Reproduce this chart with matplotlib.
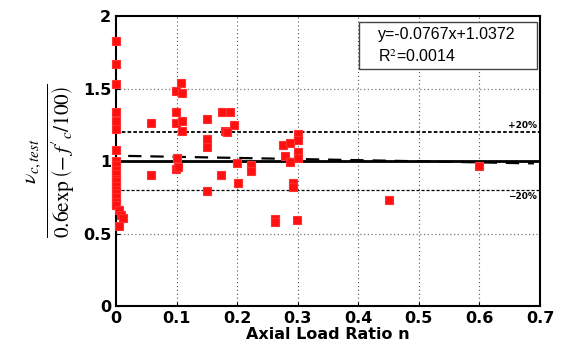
import matplotlib.pyplot as plt
import matplotlib.patches as patches
import numpy as np

plt.rcParams['mathtext.fontset'] = 'stix'

# axial load ratio and normalised shear strength
n_vals = [0, 0, 0, 0, 0, 0, 0, 0, 0, 0, 0, 0, 0, 0, 0, 0, 0, 0, 0, 0.005, 0.008, 0.012, 0.005,
          0.058, 0.057,
          0.108, 0.099, 0.109, 0.099, 0.099, 0.109, 0.109, 0.100, 0.099, 0.103,
          0.150, 0.150, 0.150, 0.150, 0.173,
          0.175, 0.188, 0.194, 0.180, 0.184,
          0.199, 0.201, 0.223, 0.223,
          0.262, 0.262, 0.276, 0.279, 0.287, 0.288, 0.292, 0.292,
          0.301, 0.301, 0.301, 0.301, 0.298,
          0.450, 0.600]
v_ratio = [1.83, 1.67, 1.53, 1.34, 1.28, 1.22, 1.08, 1.00, 0.97, 0.94, 0.91, 0.88, 0.86,
           0.83, 0.80, 0.78, 0.75, 0.72, 0.70, 0.66, 0.63, 0.61, 0.55,
           1.26, 0.905,
           1.54, 1.485, 1.47, 1.34, 1.264, 1.28, 1.21, 1.02, 0.945, 0.957,
           1.29, 1.15, 1.10, 0.795, 0.905,
           1.34, 1.34, 1.25, 1.21, 1.20,
           0.984, 0.846, 0.970, 0.935,
           0.60, 0.58, 1.11, 1.034, 1.126, 0.995, 0.85, 0.82,
           1.19, 1.145, 1.064, 1.023, 0.593,
           0.731, 0.968]

slope, intercept = -0.0767, 1.0372
fit_text = 'y=-0.0767x+1.0372\nR$^2$=0.0014'

fig = plt.figure(figsize=(5.64, 3.51), dpi=100)
ax = fig.add_axes([0.2057, 0.128, 0.7517, 0.826])

# grid
for gx in [0.1, 0.2, 0.3, 0.4, 0.5, 0.6]:
    ax.axvline(gx, color='#555555', ls=(0, (1, 2.5)), lw=0.8, zorder=1)
for gy in [0.5, 1.5]:
    ax.axhline(gy, color='#777777', ls=(0, (1, 2)), lw=0.9, zorder=1)

ax.axhline(1.2, color='black', ls=(0, (2, 1.2)), lw=1.3, zorder=2)
ax.axhline(0.8, color='black', ls=(0, (2.5, 1.5)), lw=0.9, zorder=2)
ax.axhline(1.0, color='black', lw=2, zorder=2)

xf = np.array([0.02, 0.69])
ax.plot(xf, slope * xf + intercept, color='black', ls=(0, (6, 4)), lw=1.6, zorder=3)

ax.plot(n_vals, v_ratio, 's', ms=5.2, color='#ff1010', mec='#ff3030', mew=0.8,
        zorder=4, clip_on=False)

ax.text(0.695, 1.215, '+20%', ha='right', va='bottom', fontsize=6.5, fontweight='bold')
ax.text(0.695, 0.785, '\u221220%', ha='right', va='top', fontsize=6.5, fontweight='bold')

# equation box
ax.add_patch(patches.Rectangle((0.573, 0.817), 0.42, 0.162, transform=ax.transAxes,
                               fc='white', ec='#444444', lw=1, zorder=5))
ax.text(0.618, 0.898, fit_text, transform=ax.transAxes, ha='left', va='center',
        fontsize=11.5, family='Liberation Sans', linespacing=1.45, zorder=6)

ax.set_xlim(0, 0.7)
ax.set_ylim(0, 2)
ax.set_xticks([0, 0.1, 0.2, 0.3, 0.4, 0.5, 0.6, 0.7])
ax.set_xticklabels(['0', '0.1', '0.2', '0.3', '0.4', '0.5', '0.6', '0.7'])
ax.set_yticks([0, 0.5, 1, 1.5, 2])
ax.set_yticklabels(['0', '0.5', '1', '1.5', '2'])
ax.tick_params(direction='in', length=3, labelsize=11.5, width=0.8)
for lab in ax.get_xticklabels() + ax.get_yticklabels():
    lab.set_fontweight('bold')
for sp in ax.spines.values():
    sp.set_linewidth(1.5)

ax.set_xlabel('Axial Load Ratio n', fontsize=11.5, fontweight='bold', labelpad=1)
ax.set_ylabel(r"$\frac{\nu_{c,test}}{0.6\exp\left(-\,f'_c/100\right)}$", fontsize=22, labelpad=4)

fig.savefig('out.png', dpi=100)
